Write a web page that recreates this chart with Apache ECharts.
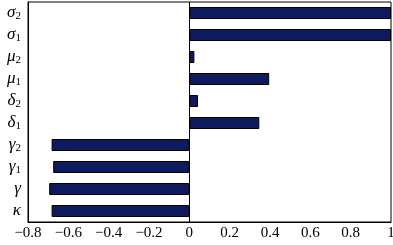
<!DOCTYPE html>
<html>
<head>
<meta charset="utf-8">
<script src="https://cdn.jsdelivr.net/npm/echarts@6/dist/echarts.min.js"></script>
<style>
  html, body { margin: 0; padding: 0; background: #fff; }
  #chart { width: 393px; height: 245px; }
</style>
</head>
<body>
<div id="chart"></div>
<script>
  // categories listed bottom to top, [symbol, subscript]
  const symbols = ['κ', 'γ', 'γ', 'γ', 'δ', 'δ', 'μ', 'μ', 'σ', 'σ'];
  const subscripts = ['', '', '1', '2', '1', '2', '1', '2', '1', '2'];
  const values = [-0.683, -0.695, -0.675, -0.683, 0.347, 0.043, 0.396, 0.025, 1, 1];
  const xTicks = [-0.8, -0.6, -0.4, -0.2, 0, 0.2, 0.4, 0.6, 0.8, 1];

  const categories = symbols.map((s, i) => subscripts[i] ? '{i|' + s + '}{s|' + subscripts[i] + '}' : '{i|' + s + '}');

  let myChart = echarts.init(document.getElementById('chart'));
  myChart.setOption({
    animation: false,
    grid: {
      left: 28,
      right: 2,
      top: 2,
      bottom: 23,
      outerBoundsMode: 'none',
      containLabel: false,
      show: true,
      borderColor: '#000',
      borderWidth: 1
    },
    xAxis: {
      type: 'value',
      min: -0.8,
      max: 1,
      interval: 0.2,
      splitLine: { show: false },
      axisLine: { show: true, onZero: false, lineStyle: { color: '#000' } },
      axisTick: { length: 5, lineStyle: { color: '#000' } },
      axisLabel: {
        color: '#000',
        fontFamily: 'Liberation Serif',
        fontSize: 15,
        margin: 4,
        hideOverlap: false,
        showMinLabel: true,
        showMaxLabel: true,
        formatter: function (v) {
          const r = Math.round(v * 10) / 10;
          if (xTicks.indexOf(r) < 0) return '';
          return r < 0 ? '\u2212' + String(-r) : String(r);
        }
      }
    },
    yAxis: {
      type: 'category',
      data: categories,
      axisLine: { show: true, onZero: false, lineStyle: { color: '#000' } },
      axisTick: { length: 5, alignWithLabel: true, lineStyle: { color: '#000' } },
      axisLabel: {
        margin: 7,
        color: '#000',
        rich: {
          i: { fontFamily: 'Liberation Serif', fontStyle: 'italic', fontSize: 17, color: '#000' },
          s: { fontFamily: 'Liberation Serif', fontSize: 11, color: '#000', verticalAlign: 'bottom', padding: [7, 0, 0, 0] }
        }
      }
    },
    series: [{
      type: 'bar',
      data: values,
      barWidth: 12,
      itemStyle: { color: '#0d1a5e', borderColor: '#000', borderWidth: 1 },
      markLine: {
        silent: true,
        symbol: 'none',
        label: { show: false },
        lineStyle: { color: '#000', type: 'solid', width: 1 },
        data: [{ xAxis: 0 }]
      }
    }]
  });
</script>
</body>
</html>
